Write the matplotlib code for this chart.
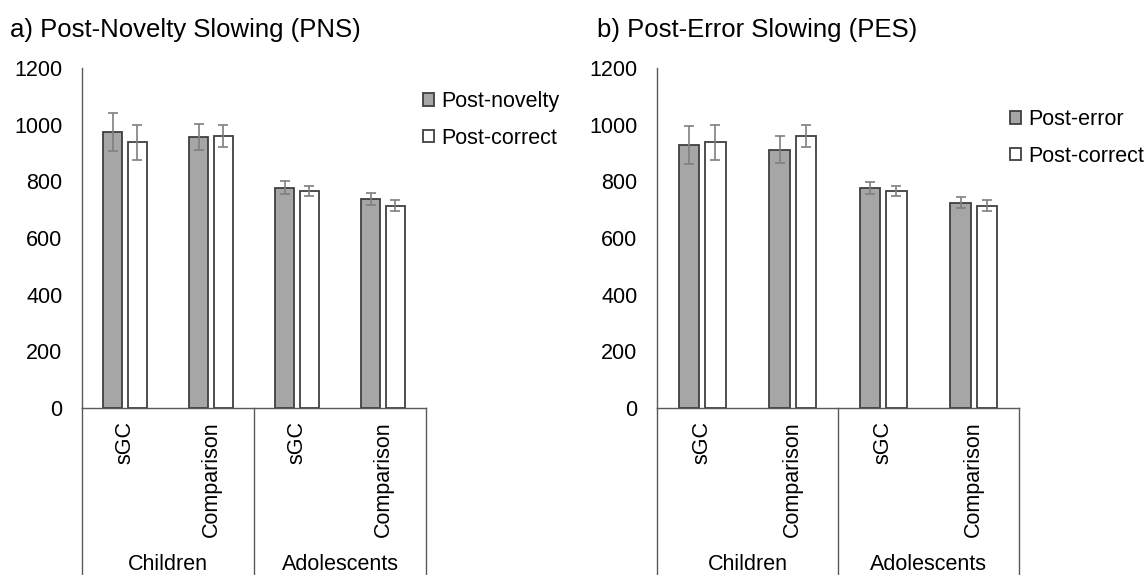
import matplotlib
matplotlib.use("Agg")
import matplotlib.pyplot as plt
from matplotlib.patches import Patch
import matplotlib.transforms as mtransforms
import numpy as np

plt.rcParams['font.family'] = ['Liberation Sans', 'DejaVu Sans']

categories = ["sGC", "Comparison", "sGC", "Comparison"]
groups = ["Children", "Adolescents"]
yticks = [0, 200, 400, 600, 800, 1000, 1200]

# Panel a: Post-Novelty Slowing
pns_novelty = [975, 957, 777, 738]
pns_novelty_err = [67, 45, 23, 21]
pns_correct = [938, 960, 767, 714]
pns_correct_err = [62, 38, 18, 20]

# Panel b: Post-Error Slowing
pes_error = [927, 912, 777, 725]
pes_error_err = [67, 47, 21, 19]
pes_correct = [938, 960, 767, 714]
pes_correct_err = [62, 38, 18, 20]

W, H = 1147, 575
fig = plt.figure(figsize=(W / 100, H / 100), dpi=100)

GRAY = "#a6a6a6"
EDGE = "#404040"
ERRC = "#7f7f7f"
FS = 15.5


def panel(left_px, right_px, title, title_x, s1, e1, s2, e2, labels, leg_xy):
    top_px, bot_px = 68, 408
    ax = fig.add_axes([left_px / W, (H - bot_px) / H,
                       (right_px - left_px) / W, (bot_px - top_px) / H])
    x = np.arange(len(categories))
    bw = 0.225
    off = 0.145
    ax.bar(x - off, s1, bw, color=GRAY, edgecolor=EDGE, linewidth=1.3,
           label=labels[0], zorder=2)
    ax.bar(x + off, s2, bw, color="white", edgecolor=EDGE, linewidth=1.3,
           label=labels[1], zorder=2)
    ax.errorbar(x - off, s1, yerr=e1, fmt="none", ecolor=ERRC, elinewidth=1.2,
                capsize=3.5, capthick=1.2, zorder=3)
    ax.errorbar(x + off, s2, yerr=e2, fmt="none", ecolor=ERRC, elinewidth=1.2,
                capsize=3.5, capthick=1.2, zorder=3)
    ax.set_xlim(-0.5, len(categories) - 0.5)
    ax.set_ylim(0, 1200)
    ax.set_yticks(yticks)
    ax.tick_params(axis="y", length=0, pad=14, labelsize=FS)
    ax.set_xticks([])
    for s in ["top", "right"]:
        ax.spines[s].set_visible(False)
    ax.spines["left"].set_color("#595959")
    ax.spines["bottom"].set_color("#595959")
    ax.spines["left"].set_linewidth(1.0)
    ax.spines["bottom"].set_linewidth(1.0)

    axh = bot_px - top_px
    trans = mtransforms.blended_transform_factory(ax.transData, ax.transAxes)
    ybottom = -(H - bot_px) / axh - 0.01
    for xv in [-0.5, 1.5, 3.5]:
        ax.plot([xv, xv], [0, ybottom], color="#595959", lw=1.0,
                transform=trans, clip_on=False)
    for xi, c in zip(x, categories):
        ax.text(xi, -13 / axh, c, rotation=90, ha="center", va="top",
                fontsize=FS, transform=trans)
    for gi, g in enumerate(groups):
        ax.text(0.5 + 2 * gi, -(564 - bot_px) / axh, g, ha="center",
                va="center", fontsize=FS, transform=trans)

    fig.text(title_x / W, 1 - 30 / H, title, fontsize=18.5,
             ha="left", va="center")

    handles = [Patch(facecolor=GRAY, edgecolor=EDGE, linewidth=1.3),
               Patch(facecolor="white", edgecolor=EDGE, linewidth=1.3)]
    fig.legend(handles, labels, loc="upper left",
               bbox_to_anchor=(leg_xy[0] / W, 1 - leg_xy[1] / H),
               frameon=False, fontsize=FS, handlelength=0.53,
               handleheight=0.53, handletextpad=0.3, labelspacing=0.72,
               borderaxespad=0, borderpad=0)
    return ax


panel(82, 426, "a) Post-Novelty Slowing (PNS)", 10, pns_novelty,
      pns_novelty_err, pns_correct, pns_correct_err,
      ["Post-novelty", "Post-correct"], (423, 91))
panel(657, 1019, "b) Post-Error Slowing (PES)", 597, pes_error, pes_error_err,
      pes_correct, pes_correct_err, ["Post-error", "Post-correct"], (1010, 109))

fig.savefig("out.png", dpi=100)
